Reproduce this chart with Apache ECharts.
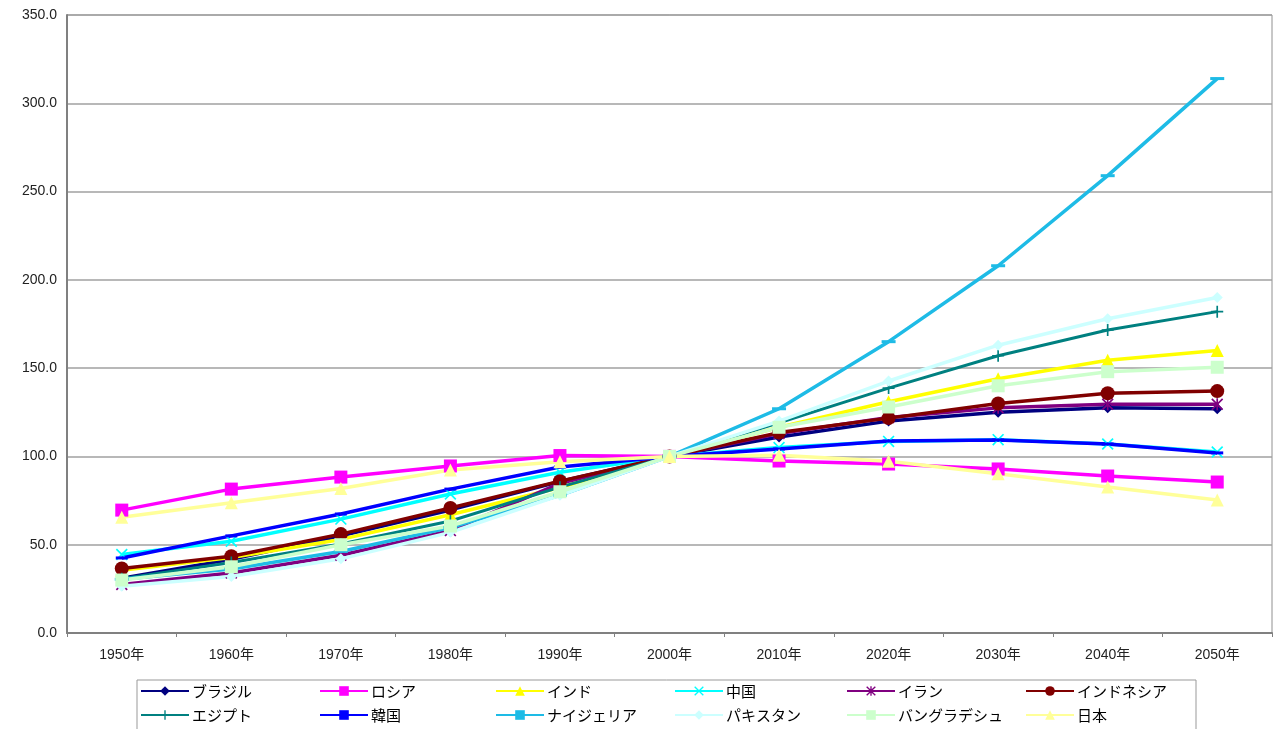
<!DOCTYPE html>
<html><head><meta charset="utf-8">
<script src="https://cdn.jsdelivr.net/npm/echarts@6/dist/echarts.min.js"></script>
<style>html,body{margin:0;padding:0;background:#fff}#c{width:1274px;height:729px}</style>
</head><body><div id="c"></div>
<script>
const categories = ['1950年','1960年','1970年','1980年','1990年','2000年','2010年','2020年','2030年','2040年','2050年'];
const yTicks = [0, 50, 100, 150, 200, 250, 300, 350];

const brazil     = [31.0, 41.7, 55.1, 69.7, 85.8, 100, 111.0, 120.0, 125.0, 127.5, 127.0];
const russia     = [69.6, 81.5, 88.3, 94.6, 100.5, 100, 97.4, 95.7, 92.9, 88.9, 85.5];
const india      = [35.5, 42.8, 53.0, 67.0, 82.4, 100, 116.5, 131.0, 144.0, 154.5, 160.0];
const china      = [44.5, 52.0, 64.5, 78.7, 91.0, 100, 105.0, 108.5, 109.5, 107.0, 102.5];
const iran       = [27.5, 34.0, 44.0, 58.0, 84.8, 100, 113.0, 122.0, 127.5, 129.5, 129.5];
const indonesia  = [36.5, 43.5, 56.0, 70.8, 86.0, 100, 113.5, 121.7, 130.0, 135.8, 137.0];
const egypt      = [30.7, 39.9, 50.4, 63.4, 82.6, 100, 119.0, 138.7, 157.0, 171.6, 182.0];
const korea      = [42.5, 55.0, 67.4, 81.5, 94.0, 100, 104.2, 108.7, 109.3, 107.0, 102.0];
const nigeria    = [30.4, 36.2, 46.2, 59.7, 78.0, 100, 127.0, 165.0, 208.0, 259.0, 314.0];
const pakistan   = [26.5, 32.0, 42.0, 57.0, 78.0, 100, 120.0, 142.7, 163.0, 178.0, 190.0];
const bangladesh = [30.0, 37.5, 50.0, 60.6, 80.0, 100, 116.5, 128.0, 140.0, 148.0, 150.5];
const japan      = [65.5, 73.8, 81.8, 92.3, 97.0, 100, 100.6, 97.3, 90.2, 82.7, 75.3];

const names = ['ブラジル','ロシア','インド','中国','イラン','インドネシア','エジプト','韓国','ナイジェリア','パキスタン','バングラデシュ','日本'];
const values = [brazil, russia, india, china, iran, indonesia, egypt, korea, nigeria, pakistan, bangladesh, japan];

const X = 'path://M0,1L1,0L5,4L9,0L10,1L6,5L10,9L9,10L5,6L1,10L0,9L4,5Z';
const AST = 'path://M0,1L1,0L4.3,3.3L4.3,0L5.7,0L5.7,3.3L9,0L10,1L6.4,4.6L6.4,5.4L10,9L9,10L5.7,6.7L5.7,10L4.3,10L4.3,6.7L1,10L0,9L3.6,5.4L3.6,4.6Z';
const PLUS = 'path://M4.3,0H5.7V4.3H10V5.7H5.7V10H4.3V5.7H0V4.3H4.3Z';
const styles = [
  {color:'#000080', symbol:'diamond', size:11, width:3.5},
  {color:'#FF00FF', symbol:'rect', size:13, width:3.5},
  {color:'#FFFF00', symbol:'triangle', size:13, width:3.5},
  {color:'#00FFFF', symbol:X, size:12, width:3.5},
  {color:'#800080', symbol:AST, size:12, width:3.5},
  {color:'#800000', symbol:'circle', size:14, width:3.5},
  {color:'#008080', symbol:PLUS, size:12, width:3},
  {color:'#0000FF', symbol:'rect', size:[12,3], width:3.5},
  {color:'#1EBBE6', symbol:'rect', size:[14,3], width:3.5},
  {color:'#CCFFFF', symbol:'diamond', size:11, width:3.5},
  {color:'#CCFFCC', symbol:'rect', size:13, width:3.5},
  {color:'#FFFF99', symbol:'triangle', size:13, width:3.5}
];

const FONT = '"Liberation Sans", "Noto Sans CJK JP", sans-serif';
const JFONT = '"Noto Sans CJK JP", sans-serif';
const series = names.map((n, i) => ({
  name: n, type: 'line', data: values[i],
  symbol: styles[i].symbol, symbolSize: styles[i].size, showAllSymbol: true,
  lineStyle: {color: styles[i].color, width: styles[i].width},
  itemStyle: {color: styles[i].color},
  emphasis: {disabled: true}
}));

const colX = [140, 319, 495, 674, 846, 1025];
const legends = colX.map((x, c) => ({
  orient: 'vertical', left: x, top: 683, itemGap: 8,
  itemWidth: 48, itemHeight: 12, padding: 0,
  data: [names[c], names[c + 6]],
  textStyle: {fontFamily: JFONT, fontSize: 15, color: '#000', lineHeight: 16, padding: [0, 0, 0, -2]},
  selectedMode: false
}));

const chart = echarts.init(document.getElementById('c'));
chart.setOption({
  animation: false,
  backgroundColor: '#fff',
  grid: {left: 67, right: 2, top: 15, bottom: 96, show: true, borderColor: '#909090', borderWidth: 1},
  xAxis: {
    type: 'category', data: categories, boundaryGap: true,
    axisLine: {lineStyle: {color: '#808080', width: 2}},
    axisTick: {show: true, length: 4, lineStyle: {color: '#808080'}},
    axisLabel: {fontFamily: FONT, fontSize: 14, color: '#222', margin: 15}
  },
  yAxis: {
    type: 'value', min: yTicks[0], max: yTicks[yTicks.length - 1], interval: 50,
    axisLine: {show: true, lineStyle: {color: '#808080', width: 2}},
    axisTick: {show: false},
    axisLabel: {fontFamily: FONT, fontSize: 14, color: '#222', margin: 10, formatter: v => v.toFixed(1)},
    splitLine: {lineStyle: {color: '#a0a0a0', width: 1.5}}
  },
  legend: legends,
  graphic: [{type: 'rect', shape: {x: 137, y: 680, width: 1059, height: 60}, style: {fill: 'none', stroke: '#999', lineWidth: 1}, silent: true, z: -1}],
  series: series
});
</script></body></html>
